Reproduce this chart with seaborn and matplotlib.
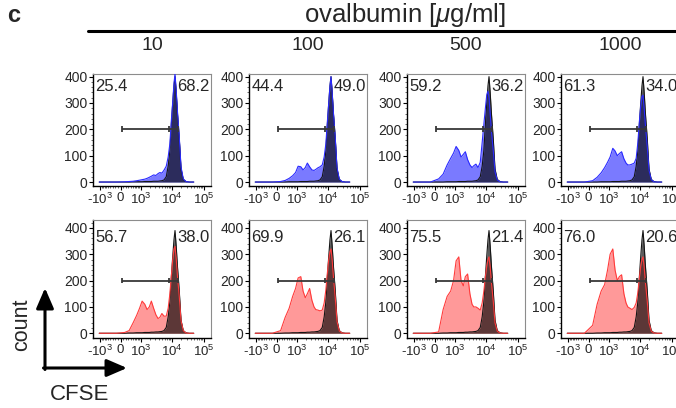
import numpy as np
import pandas as pd
import matplotlib
matplotlib.use("Agg")
import matplotlib.pyplot as plt
import seaborn as sns
from matplotlib.ticker import FixedLocator, MultipleLocator
from matplotlib.patches import FancyArrowPatch
from matplotlib.lines import Line2D

# ---------------- data ----------------
concentrations = ["10", "100", "500", "1000"]

cfse = [-1100, -550, -150, 150, 330, 520, 720, 920, 1130, 1390, 1650, 1950, 2270,
        2680, 3170, 3700, 4200, 4900, 5700, 6700, 7700, 8700, 9700, 10700, 11700,
        12600, 13700, 15100, 17100, 19400, 22800, 27700, 35300, 48500]

# undivided controls (black outline)
control_row1 = [0, 0, 0, 0, 0, 1, 1, 1, 1, 2, 2, 2, 2, 3, 3, 3, 4, 5, 8,
                20, 60, 120, 220, 300, 365, 400, 340, 255, 165, 50, 10, 2, 0, 0]
control_row2 = [0, 0, 0, 0, 1, 1, 2, 2, 2, 3, 3, 3, 4, 4, 5, 5, 6, 7, 10,
                22, 62, 120, 215, 292, 355, 390, 332, 250, 162, 50, 10, 2, 0, 0]

# row 1 (blue) samples
blue_10 = [0, 0, 0, 1, 2, 3, 5, 7, 9, 11, 14, 18, 22, 27, 25, 32, 36, 34, 45,
           60, 95, 145, 235, 305, 375, 410, 350, 265, 172, 58, 12, 2, 0, 0]
blue_100 = [0, 0, 0, 2, 6, 14, 24, 36, 60, 58, 46, 55, 72, 58, 46, 44, 48, 54, 58,
            65, 95, 145, 230, 300, 365, 400, 340, 258, 168, 55, 11, 2, 0, 0]
blue_500 = [0, 0, 0, 12, 30, 65, 90, 110, 135, 120, 95, 105, 115, 85, 65, 55, 62, 68, 55,
            75, 150, 220, 280, 330, 345, 320, 260, 190, 120, 40, 8, 1, 0, 0]
blue_1000 = [0, 0, 0, 5, 18, 35, 55, 75, 95, 128, 118, 100, 108, 115, 88, 72, 65, 65, 68,
             72, 90, 150, 230, 290, 325, 330, 280, 210, 135, 45, 9, 1, 0, 0]

# row 2 (red) samples
red_10 = [0, 0, 0, 3, 10, 40, 68, 95, 122, 110, 90, 100, 122, 95, 70, 56, 60, 75, 65,
          65, 95, 150, 220, 280, 320, 330, 285, 215, 140, 48, 10, 1, 0, 0]
red_100 = [0, 0, 0, 10, 60, 95, 140, 170, 210, 215, 160, 135, 150, 170, 125, 100, 90, 88, 85,
           88, 115, 165, 230, 280, 310, 320, 278, 210, 135, 45, 9, 1, 0, 0]
red_500 = [0, 0, 0, 5, 90, 140, 160, 200, 275, 290, 200, 180, 215, 225, 150, 110, 100, 100, 95,
           88, 115, 160, 215, 255, 280, 290, 252, 190, 122, 40, 8, 1, 0, 0]
red_1000 = [0, 0, 0, 30, 110, 160, 185, 240, 300, 320, 240, 200, 215, 222, 150, 115, 100, 95, 90,
            98, 115, 155, 210, 255, 280, 290, 252, 190, 122, 40, 8, 1, 0, 0]

pct_divided_row1 = [25.4, 44.4, 59.2, 61.3]
pct_undivided_row1 = [68.2, 49.0, 36.2, 34.0]
pct_divided_row2 = [56.7, 69.9, 75.5, 76.0]
pct_undivided_row2 = [38.0, 26.1, 21.4, 20.6]

gate_edges = [50, 8000, 16000]
gate_level = 200

x_ticks = [-1000, 0, 1000, 10000, 100000]
x_ticklabels = ["-10$^3$", "0", "10$^3$", "10$^4$", "10$^5$"]
y_ticks = [0, 100, 200, 300, 400]

# ---------------- style ----------------
sns.set_style("ticks")
plt.rcParams["font.family"] = ["Liberation Sans", "DejaVu Sans"]
plt.rcParams["mathtext.fontset"] = "custom"
plt.rcParams["mathtext.rm"] = "Liberation Sans"
plt.rcParams["mathtext.it"] = "Liberation Sans:italic"
plt.rcParams["mathtext.bf"] = "Liberation Sans:bold"
plt.rcParams["mathtext.default"] = "regular"

W, H = 676, 408
fig = plt.figure(figsize=(W / 100, H / 100), dpi=100)

C = 500.0
def fwd(x):
    return np.arcsinh(np.asarray(x, dtype=float) / C) / np.log(10)
def inv(y):
    return C * np.sinh(np.asarray(y, dtype=float) * np.log(10))

minor_x = (list(range(-900, 0, 100)) + list(range(100, 1000, 100))
           + list(range(2000, 10000, 1000)) + list(range(20000, 100000, 10000)))

col_left = [93, 249, 407, 561]
ax_w = 118
rows = [
    dict(top=74, bottom=186, ylim=(-15, 410), control=control_row1,
         samples=[blue_10, blue_100, blue_500, blue_1000],
         left=pct_divided_row1, right=pct_undivided_row1,
         fill="#0000ff", falpha=0.52, line="#2a2aff", ctrl_alpha=0.64),
    dict(top=220, bottom=338, ylim=(-18, 430), control=control_row2,
         samples=[red_10, red_100, red_500, red_1000],
         left=pct_divided_row2, right=pct_undivided_row2,
         fill="#ff0000", falpha=0.4, line="#ff3b3b", ctrl_alpha=0.64),
]

for r in rows:
    for j, samp in enumerate(r["samples"]):
        L = col_left[j]
        ax = fig.add_axes([L / W, 1 - r["bottom"] / H, ax_w / W,
                           (r["bottom"] - r["top"]) / H])
        ax.set_xscale("function", functions=(fwd, inv))
        df = pd.DataFrame({"cfse": cfse, "sample": samp, "control": r["control"]})
        ax.fill_between(df["cfse"], df["sample"], color=r["fill"], alpha=r["falpha"],
                        lw=0, zorder=1)
        ax.fill_between(df["cfse"], df["control"], color="black",
                        alpha=r["ctrl_alpha"], lw=0, zorder=2)
        sns.lineplot(data=df, x="cfse", y="control", ax=ax, color="#151515",
                     lw=0.8, zorder=3)
        sns.lineplot(data=df, x="cfse", y="sample", ax=ax, color=r["line"],
                     lw=0.8, zorder=4)
        # gate bar
        ax.hlines(gate_level, gate_edges[0], gate_edges[-1], color="#383838",
                  lw=1.3, zorder=5)
        ax.vlines(gate_edges, gate_level - 11, gate_level + 11, color="#383838",
                  lw=1.3, zorder=5)

        ax.set_xlim(-1776, 168000)
        ax.set_ylim(*r["ylim"])
        ax.set_xlabel("")
        ax.set_ylabel("")
        ax.xaxis.set_major_locator(FixedLocator(x_ticks))
        ax.set_xticklabels(x_ticklabels)
        ax.xaxis.set_minor_locator(FixedLocator(minor_x))
        ax.set_yticks(y_ticks)
        ax.yaxis.set_minor_locator(MultipleLocator(20))
        ax.tick_params(axis="both", which="major", direction="out", length=3,
                       width=0.8, color="black")
        ax.tick_params(axis="both", which="minor", direction="out", length=1.6,
                       width=0.5, color="#333333")
        ax.tick_params(axis="x", labelsize=9.5, pad=1)
        ax.tick_params(axis="y", labelsize=10, pad=1)
        for s in ("left", "bottom"):
            ax.spines[s].set_color("black")
            ax.spines[s].set_linewidth(1.0)
        for s in ("top", "right"):
            ax.spines[s].set_color("#8c8c8c")
            ax.spines[s].set_linewidth(0.8)

        tr = ax.get_yaxis_transform()
        ax.text(0.02, 362, f"{r['left'][j]:.1f}", transform=tr, ha="left",
                va="center", fontsize=12, zorder=6)
        ax.text(0.99, 362, f"{r['right'][j]:.1f}", transform=tr, ha="right",
                va="center", fontsize=12, zorder=6)

# column titles
for j, conc in enumerate(concentrations):
    cx = (col_left[j] + ax_w / 2) / W
    fig.text(cx, 1 - 46 / H, conc, ha="center", va="center", fontsize=14)

fig.text(405 / W, 1 - 15 / H, r"ovalbumin [$\mathit{\mu}$g/ml]", ha="center",
         va="center", fontsize=18.5)
fig.add_artist(Line2D([88 / W, 1.0], [1 - 31 / H, 1 - 31 / H],
                      transform=fig.transFigure, color="black", lw=2.2))
fig.text(14 / W, 1 - 15 / H, "c", ha="center", va="center", fontsize=17,
         fontweight="bold")

# count / CFSE arrows
arrow_style = "-|>,head_length=0.44,head_width=0.19"
fig.add_artist(FancyArrowPatch(posA=(45 / W, 1 - 369.5 / H), posB=(45 / W, 1 - 288 / H),
                               transform=fig.transFigure, arrowstyle=arrow_style,
                               mutation_scale=28, lw=2.2, color="black",
                               shrinkA=0, shrinkB=0))
fig.add_artist(FancyArrowPatch(posA=(43.5 / W, 1 - 368 / H), posB=(127 / W, 1 - 368 / H),
                               transform=fig.transFigure, arrowstyle=arrow_style,
                               mutation_scale=28, lw=2.2, color="black",
                               shrinkA=0, shrinkB=0))
fig.text(22 / W, 1 - 325 / H, "count", rotation=90, ha="center", va="center",
         fontsize=15.5)
fig.text(80 / W, 1 - 394 / H, "CFSE", ha="center", va="center", fontsize=16)

fig.savefig("out.png", dpi=100)
